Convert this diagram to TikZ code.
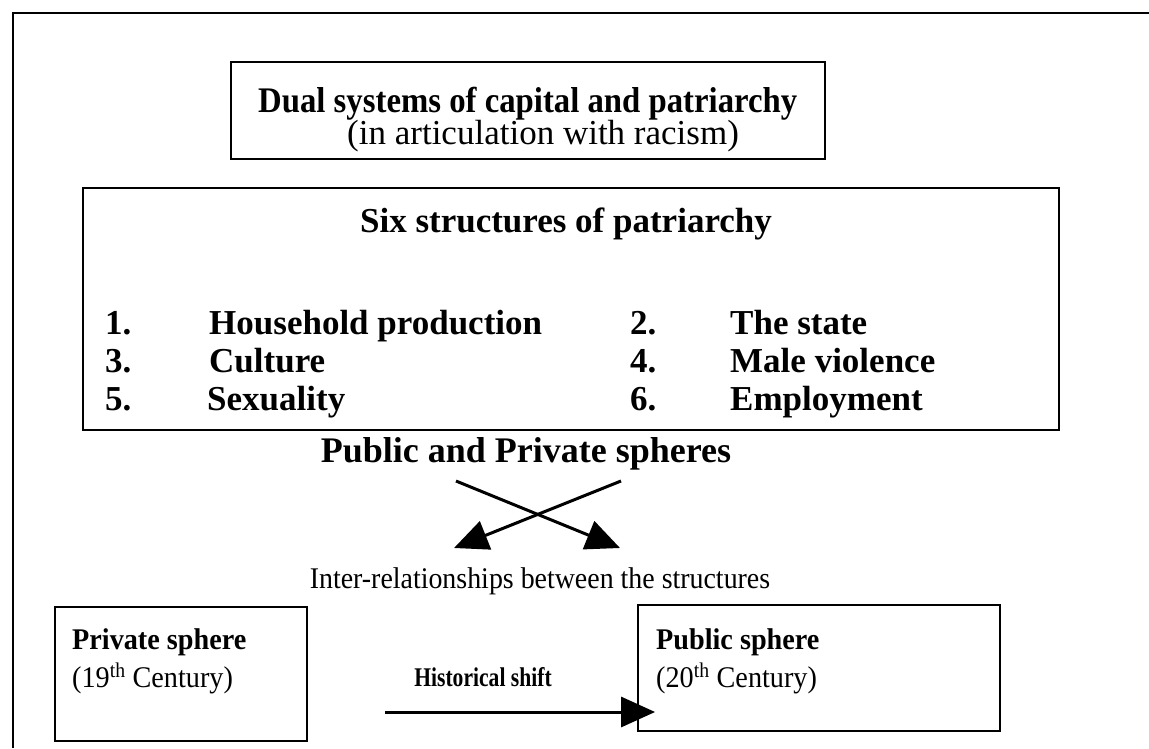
\documentclass[tikz,border=0pt]{standalone}
\usepackage{fontspec}
\setmainfont{Liberation Serif}
\usetikzlibrary{arrows.meta}
\begin{document}
\begin{tikzpicture}[x=1pt,y=-1pt,
  frameline/.style={line width=2.2pt},
  boxstyle/.style={draw, line width=1.8pt, inner sep=0pt},
  bt/.style={font=\fontsize{35}{40}\selectfont\bfseries, inner sep=0pt, anchor=base west},
  rt/.style={font=\fontsize{35}{40}\selectfont, inner sep=0pt, anchor=base west},
  sbt/.style={font=\fontsize{30}{36}\selectfont\bfseries, inner sep=0pt, anchor=base west},
  srt/.style={font=\fontsize{30}{36}\selectfont, inner sep=0pt, anchor=base west},
  bigarrow/.style={line width=3pt, -{Triangle[length=34pt,width=30pt]}}
]
\useasboundingbox (0,0) rectangle (1149,748);
\fill[white] (0,0) rectangle (1149,748);
% outer frame (only top and left edges visible)
\coordinate (otl) at (13,13);
\coordinate (otr) at (1149,13);
\coordinate (obl) at (13,748);
\draw[frameline] (otr) -- (otl) -- (obl);

% box 1
\node[boxstyle, minimum width=594pt, minimum height=97pt] (box1) at (528,110.5) {};
\node[font=\fontsize{36}{40}\selectfont\bfseries, inner sep=0pt, anchor=base west] (dual) at (258,112) {\scalebox{0.91}[1]{Dual systems of capital and patriarchy}};
\node[rt] (artic) at (347,144) {(in articulation with racism)};

% box 2
\node[boxstyle, minimum width=976pt, minimum height=242pt] (box2) at (571,309) {};
\node[bt, anchor=base] (six) at (566,232) {Six structures of patriarchy};
\node[bt] (n1) at (105,334) {1.};
\node[bt] (l1) at (209,334) {Household production};
\node[bt] (n3) at (105,372) {3.};
\node[bt] (l3) at (209,372) {Culture};
\node[bt] (n5) at (105,410) {5.};
\node[bt] (l5) at (207,410) {Sexuality};
\node[bt] (n2) at (630,334) {2.};
\node[bt] (l2) at (730,334) {The state};
\node[bt] (n4) at (630,372) {4.};
\node[bt] (l4) at (730,372) {Male violence};
\node[bt] (n6) at (630,410) {6.};
\node[bt] (l6) at (730,410) {Employment};

% spheres and crossing arrows
\node[font=\fontsize{36}{42}\selectfont\bfseries, inner sep=0pt, anchor=base] (spheres) at (526,462) {Public and Private spheres};
\coordinate (c1s) at (456,481);
\coordinate (c1e) at (620,548);
\coordinate (c2s) at (621,481);
\coordinate (c2e) at (454,548);
\draw[bigarrow] (c1s) -- (c1e);
\draw[bigarrow] (c2s) -- (c2e);
\node[font=\fontsize{30}{36}\selectfont, inner sep=0pt, anchor=base] (inter) at (540,588) {\scalebox{0.93}[1]{Inter-relationships between the structures}};

% bottom boxes
\node[boxstyle, minimum width=252pt, minimum height=134pt] (priv) at (181,674) {};
\node[sbt] (privt) at (72,649) {\scalebox{0.94}[1]{Private sphere}};
\node[srt] (privc) at (72,687) {\scalebox{0.94}[1]{(19\textsuperscript{th} Century)}};
\node[boxstyle, minimum width=362pt, minimum height=126pt] (pub) at (819,668) {};
\node[sbt] (pubt) at (656,649) {\scalebox{0.94}[1]{Public sphere}};
\node[srt] (pubc) at (656,687) {\scalebox{0.94}[1]{(20\textsuperscript{th} Century)}};
\node[font=\fontsize{27}{32}\selectfont\bfseries, inner sep=0pt, anchor=base] (hist) at (483,686) {\scalebox{0.8}[1]{Historical shift}};
\coordinate (hs) at (385,712);
\coordinate (he) at ([xshift=18pt]pub.west |- hs);
\draw[bigarrow] (hs) -- (he);
\end{tikzpicture}
\end{document}
